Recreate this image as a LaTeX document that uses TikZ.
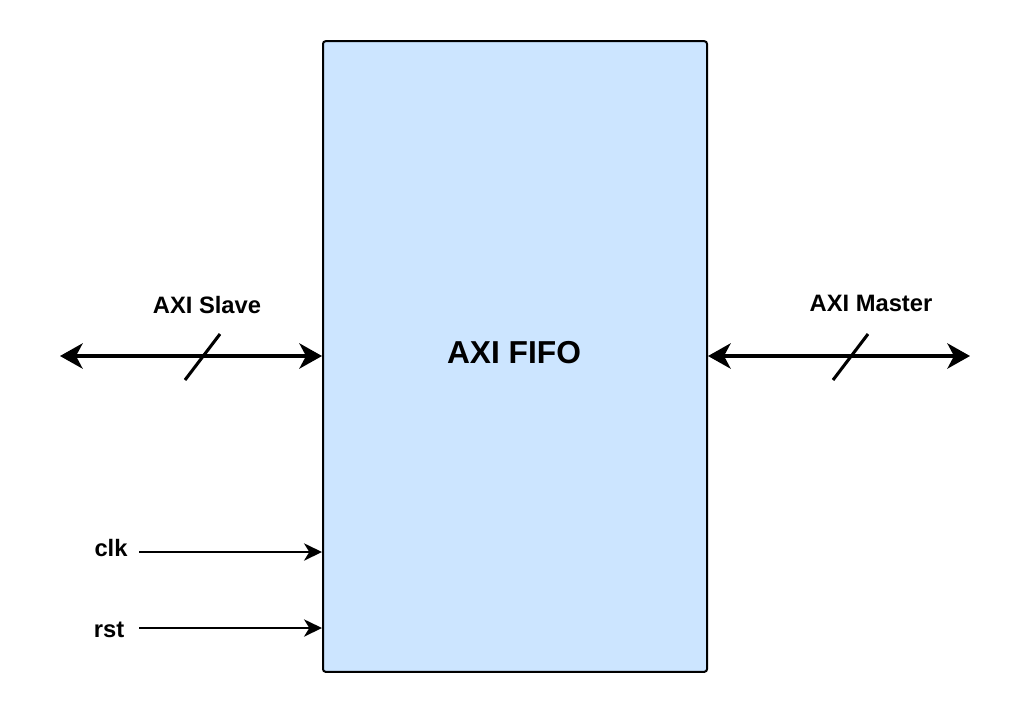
\documentclass[tikz,border=0pt]{standalone}
\usepackage{fontspec}
\setmainfont{Liberation Sans}
\usetikzlibrary{arrows.meta}
\definecolor{fifoblue}{HTML}{CCE5FF}

\begin{document}
\begin{tikzpicture}[x=0.75pt, y=-0.75pt,
    lbl/.style={font=\bfseries\fontsize{17.8}{20}\selectfont, inner sep=0pt},
    bus/.style={line width=2.3pt, {Stealth[length=17pt, width=19pt, inset=5pt]}-{Stealth[length=17pt, width=19pt, inset=5pt]}},
    sig/.style={line width=1.5pt, -{Stealth[length=13.5pt, width=13pt, inset=4pt]}}]
  \useasboundingbox (0, 0) rectangle (1030, 714);
  \node [draw, line width=1.5pt, fill=fifoblue, rounded corners=2pt,
         minimum width=288pt, minimum height=473pt, inner sep=0pt] (fifo) at (515, 356.5) {};
  \node [font=\bfseries\fontsize{23.8}{28}\selectfont, inner sep=0pt] (title) at (514, 353) {AXI FIFO};

  % slave side
  \coordinate (slv) at (60, 356);
  \draw [bus] (slv) -- (fifo.west |- slv);
  \draw [line width=2.3pt] (185, 380) -- (220, 334);
  \node [lbl] (slvlbl) at (207, 305) {AXI Slave};

  % master side
  \coordinate (mst) at (970, 356);
  \draw [bus] (fifo.east |- mst) -- (mst);
  \draw [line width=2.3pt] (833, 380) -- (868, 334);
  \node [lbl] (mstlbl) at (871, 303) {AXI Master};

  % clock and reset
  \node [lbl] (clk) at (111, 548) {clk};
  \coordinate (clkin) at (139, 552);
  \draw [sig] (clkin) -- (fifo.west |- clkin);
  \node [lbl] (rst) at (109, 630) {rst};
  \coordinate (rstin) at (139, 628);
  \draw [sig] (rstin) -- (fifo.west |- rstin);

\end{tikzpicture}
\end{document}
